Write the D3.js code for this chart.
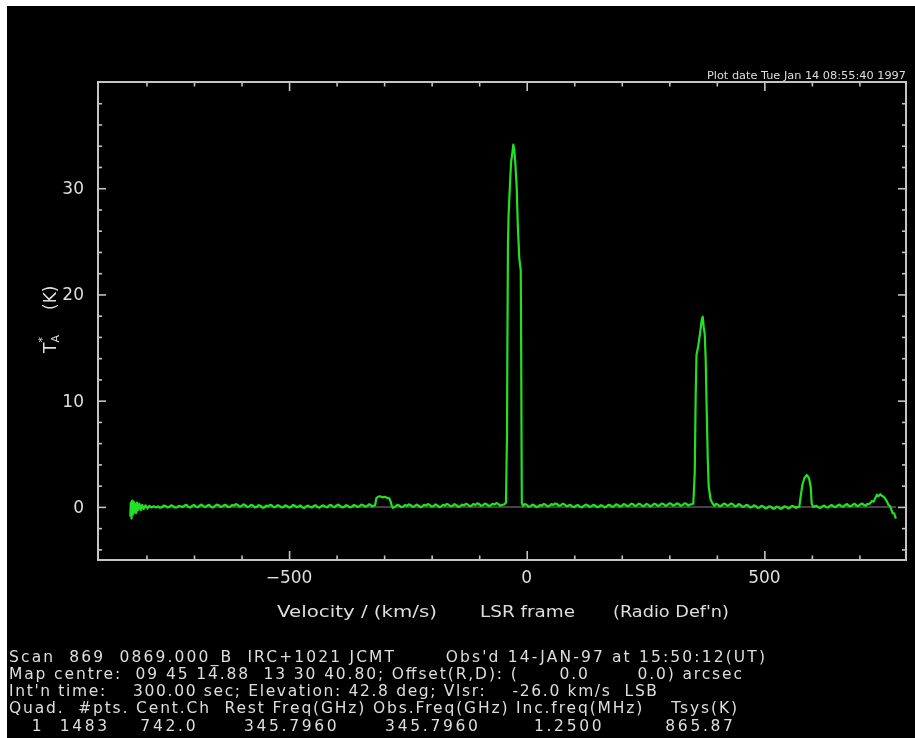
<!DOCTYPE html>
<html><head><meta charset="utf-8">
<script src="https://cdn.jsdelivr.net/npm/d3@7"></script>
<style>
html,body{margin:0;padding:0;background:#fff;}
svg{display:block;}
</style></head><body>
<svg id="c" width="915" height="738"></svg>
<script>
// ---------------- data ----------------
const xTickLabels = [-500, 0, 500];
const xMinorTicks = [-800,-700,-600,-400,-300,-200,-100,100,200,300,400,600,700];
const yTickLabels = [0, 10, 20, 30];
const yMinorTicks = [-4,-2,2,4,6,8,12,14,16,18,22,24,26,28,32,34,36,38];

// spectrum: [velocity km/s, T_A* K]
const leftEdge = [[-834,-0.9],[-833,0.4],[-831.5,-1.1],[-830,0.6],[-828.5,-0.7],[-827,0.5],[-825.5,-0.5],[-824,0.3],[-822,-0.6],[-820,0.4],[-818,-0.3],[-815,0.3],[-812,-0.3],[-809,0.2],[-806,-0.2],[-802,0.15],[-798,-0.15],[-794,0.1],[-790,-0.05],[-785,0.05],[-780,-0.05]];
const baseline1 = [[-776,0.05],[-772,-0.08],[-768,-0.05],[-764,0.12],[-760,0.10],[-756,-0.04],[-752,0.00],[-748,0.14],[-744,0.08],[-740,-0.06],[-736,-0.04],[-732,0.10],[-728,0.06],[-724,-0.02],[-720,0.12],[-716,0.20],[-712,0.02],[-708,-0.06],[-704,0.10],[-700,0.18],[-696,0.04],[-692,-0.04],[-688,0.14],[-684,0.22],[-680,0.06],[-676,-0.02],[-672,0.12],[-668,0.20],[-664,0.00],[-660,-0.06],[-656,0.10],[-652,0.22],[-648,0.16],[-644,0.00],[-640,0.06],[-636,0.20],[-632,0.14],[-628,-0.02],[-624,0.02],[-620,0.18],[-616,0.12],[-612,0.26],[-608,0.18],[-604,0.02],[-600,0.08],[-596,0.24],[-592,0.16],[-588,0.00],[-584,0.04],[-580,0.20],[-576,0.12],[-572,-0.04],[-568,0.00],[-564,0.16],[-560,0.10],[-556,-0.08],[-552,-0.04],[-548,0.12],[-544,0.06],[-540,0.20],[-536,0.14],[-532,-0.04],[-528,0.02],[-524,0.16],[-520,0.10],[-516,-0.06],[-512,-0.02],[-508,0.14],[-504,0.08],[-500,-0.06],[-496,0.00],[-492,0.18],[-488,0.12],[-484,-0.02],[-480,0.04],[-476,0.14],[-472,-0.06],[-468,-0.10],[-464,0.06],[-460,0.12],[-456,0.00],[-452,-0.06],[-448,0.10],[-444,0.16],[-440,-0.02],[-436,-0.08],[-432,0.08],[-428,0.14],[-424,0.02],[-420,-0.04],[-416,0.12],[-412,0.20],[-408,0.04],[-404,-0.02],[-400,0.14],[-396,0.22],[-392,0.06],[-388,-0.04],[-384,0.00],[-380,0.16],[-376,0.10],[-372,-0.04],[-368,0.02],[-364,0.18],[-360,0.12],[-356,0.00],[-352,0.06],[-348,0.22],[-344,0.16],[-340,0.02],[-336,0.08],[-332,0.24],[-328,0.18],[-325,0.04],[-322,0.12]];
const bumpWest = [[-319,0.15],[-316.5,0.8],[-313,0.95],[-309,1.0],[-304,0.9],[-299,0.95],[-294,0.85],[-289,0.8],[-286,0.45],[-284,0.1],[-281,-0.1]];
const baseline2 = [[-276,0.05],[-272,0.20],[-268,0.12],[-264,-0.02],[-260,0.02],[-256,0.18],[-252,0.10],[-248,0.24],[-244,0.16],[-240,0.00],[-236,0.06],[-232,0.22],[-228,0.14],[-224,-0.02],[-220,0.04],[-216,0.20],[-212,0.12],[-208,0.26],[-204,0.18],[-200,0.02],[-196,0.08],[-192,0.24],[-188,0.14],[-184,-0.02],[-180,0.04],[-176,0.20],[-172,0.12],[-168,0.28],[-164,0.20],[-160,0.04],[-156,0.10],[-152,0.26],[-148,0.16],[-144,0.00],[-140,0.06],[-136,0.22],[-132,0.14],[-128,0.30],[-124,0.22],[-120,0.06],[-116,0.12],[-112,0.28],[-108,0.18],[-104,0.34],[-100,0.26],[-96,0.10],[-92,0.16],[-88,0.32],[-84,0.24],[-80,0.08],[-76,0.14],[-72,0.30],[-68,0.22],[-64,0.36],[-60,0.28],[-56,0.12],[-52,0.18],[-47,0.25]];
const peakCO = [[-43.6,0.4],[-41.4,7.2],[-40.8,14.1],[-39.5,24.5],[-38.2,27.4],[-35.6,30],[-33,32.4],[-30.3,33.3],[-28.2,34.1],[-26.1,33.6],[-24,32.4],[-21,30],[-18.9,26.7],[-15.6,23.4],[-12.6,22.3],[-11.6,14.1],[-10.8,5],[-10.3,0.4]];
const baseline3 = [[-8,0.10],[-4,0.26],[0,0.20],[4,0.02],[8,0.06],[12,0.22],[16,0.14],[20,-0.02],[24,0.02],[28,0.18],[32,0.12],[36,0.28],[40,0.20],[44,0.04],[48,0.10],[52,0.26],[56,0.18],[60,0.32],[64,0.26],[68,0.10],[72,0.16],[76,0.30],[80,0.22],[84,0.06],[88,0.12],[92,0.20],[96,0.04],[100,-0.02],[104,0.12],[108,0.18],[112,0.02],[116,-0.04],[120,0.10],[124,0.22],[128,0.16],[132,0.00],[136,0.06],[140,0.20],[144,0.12],[148,-0.02],[152,0.02],[156,0.16],[160,0.10],[164,-0.04],[168,0.04],[172,0.20],[176,0.14],[180,0.00],[184,0.08],[188,0.24],[192,0.18],[196,0.02],[200,0.10],[204,0.26],[208,0.20],[212,0.06],[216,0.14],[220,0.30],[224,0.24],[228,0.08],[232,0.16],[236,0.30],[240,0.22],[244,0.06],[248,0.12],[252,0.28],[256,0.20],[260,0.04],[264,0.14],[268,0.30],[272,0.24],[276,0.08],[280,0.16],[284,0.32],[288,0.26],[292,0.10],[296,0.18],[300,0.34],[304,0.28],[308,0.12],[312,0.20],[316,0.34],[320,0.26],[324,0.10],[328,0.18],[332,0.34],[336,0.28],[340,0.12],[344,0.22]];
const peak2 = [[350.5,0.3],[353.5,3.2],[355.5,10.5],[357.2,14.3],[361,15.2],[364.6,16.3],[368.2,17.6],[370.3,17.9],[372.4,16.9],[374.5,16.3],[376.6,13.8],[378.7,9.1],[380.8,4.7],[382.9,1.9],[387.1,0.65],[391.3,0.3]];
const baseline4 = [[395,0.10],[398,0.28],[402,0.22],[406,0.06],[410,0.12],[414,0.30],[418,0.28],[422,0.10],[426,0.18],[430,0.32],[434,0.24],[438,0.04],[442,0.10],[446,0.26],[450,0.18],[454,0.00],[458,0.06],[462,0.20],[466,0.12],[470,-0.06],[474,0.00],[478,0.14],[482,0.08],[486,-0.10],[490,-0.06],[494,0.10],[498,0.04],[502,-0.14],[506,-0.10],[510,0.06],[514,0.00],[518,-0.18],[522,-0.14],[526,0.02],[530,-0.04],[534,-0.18],[538,-0.12],[542,0.06],[546,0.00],[550,-0.14],[554,-0.08],[558,0.10],[562,0.04],[566,-0.10],[569,-0.02]];
const peak3 = [[573.5,0.0],[576.5,1.0],[580,2.1],[584.2,2.7],[589.1,3.0],[594,2.7],[597.5,1.9],[599.6,0.3],[603,0.0]];
const baseline5 = [[606,0.05],[610,0.10],[614,-0.06],[618,-0.10],[622,0.06],[626,0.12],[630,-0.02],[634,-0.06],[638,0.10],[642,0.18],[646,0.02],[650,-0.02],[654,0.14],[658,0.22],[662,0.06],[666,0.02],[670,0.18],[674,0.26],[678,0.10],[682,0.06],[686,0.20],[690,0.30],[694,0.12],[698,0.08],[702,0.24],[706,0.32],[710,0.16],[714,0.12],[716,0.26]];
const bumpEast = [[722,0.3],[726,0.55],[730,0.5],[733,0.8],[737,1.15],[740,1.0],[744,1.2],[747,1.05],[751,0.95],[754,0.8],[758,0.5],[761,0.2],[764,0.1],[766,-0.1],[770,-0.6],[773,-0.6],[775,-0.9],[777,-1.1]];

const plotDate = "Plot date Tue Jan 14 08:55:40 1997";
const xTitle = ["Velocity / (km/s)", "LSR frame", "(Radio Def'n)"];
const headerLines = [
  "Scan  869  0869.000_B  IRC+1021 JCMT       Obs'd 14-JAN-97 at 15:50:12(UT)",
  "Map centre:  09 45 14.88  13 30 40.80; Offset(R,D): (      0.0       0.0) arcsec",
  "Int'n time:    300.00 sec; Elevation: 42.8 deg; Vlsr:    -26.0 km/s  LSB",
  "Quad.  #pts. Cent.Ch  Rest Freq(GHz) Obs.Freq(GHz) Inc.freq(MHz)    Tsys(K)",
  "   1  1483    742.0      345.7960      345.7960       1.2500        865.87"
];

// ---------------- layout ----------------
const spectrum = [].concat(leftEdge, baseline1, bumpWest, baseline2, peakCO, baseline3, peak2, baseline4, peak3, baseline5, bumpEast);
const frame = {left: 98, right: 906, top: 82, bottom: 560};
const svg = d3.select("#c");
svg.append("rect").attr("x",7).attr("y",6).attr("width",908).attr("height",732).attr("fill","#000");

const defs = svg.append("defs");
defs.append("filter").attr("id","soft").attr("x","-5%").attr("y","-5%").attr("width","110%").attr("height","110%")
  .append("feGaussianBlur").attr("stdDeviation",0.5);

const g = svg.append("g").attr("filter","url(#soft)");
const x = d3.scaleLinear().domain([-902, 798]).range([frame.left, frame.right]);
const y = d3.scaleLinear().domain([-5, 40]).range([frame.bottom, frame.top]);

const axisCol = "#c4c4c4", textCol = "#dedede", font = "DejaVu Sans";

function styleAxis(sel){ sel.select(".domain").remove(); sel.selectAll("line").attr("stroke",axisCol).attr("stroke-width",1.6); sel.selectAll("text").remove(); }
g.append("g").attr("transform",`translate(0,${frame.bottom})`).call(d3.axisBottom(x).tickValues(xTickLabels).tickSize(-9).tickFormat("")).call(styleAxis);
g.append("g").attr("transform",`translate(0,${frame.bottom})`).call(d3.axisBottom(x).tickValues(xMinorTicks).tickSize(-4.5).tickFormat("")).call(styleAxis);
g.append("g").attr("transform",`translate(0,${frame.top})`).call(d3.axisTop(x).tickValues(xTickLabels).tickSize(-9).tickFormat("")).call(styleAxis);
g.append("g").attr("transform",`translate(0,${frame.top})`).call(d3.axisTop(x).tickValues(xMinorTicks).tickSize(-4.5).tickFormat("")).call(styleAxis);
g.append("g").attr("transform",`translate(${frame.left},0)`).call(d3.axisLeft(y).tickValues(yTickLabels).tickSize(-8).tickFormat("")).call(styleAxis);
g.append("g").attr("transform",`translate(${frame.left},0)`).call(d3.axisLeft(y).tickValues(yMinorTicks).tickSize(-4).tickFormat("")).call(styleAxis);
g.append("g").attr("transform",`translate(${frame.right},0)`).call(d3.axisRight(y).tickValues(yTickLabels).tickSize(-8).tickFormat("")).call(styleAxis);
g.append("g").attr("transform",`translate(${frame.right},0)`).call(d3.axisRight(y).tickValues(yMinorTicks).tickSize(-4).tickFormat("")).call(styleAxis);

g.append("rect").attr("x",frame.left).attr("y",frame.top).attr("width",frame.right-frame.left).attr("height",frame.bottom-frame.top)
  .attr("fill","none").attr("stroke",axisCol).attr("stroke-width",2);

// tick labels
g.selectAll("text.xl").data(xTickLabels).join("text").attr("class","xl")
  .attr("x",d=>x(d)).attr("y",583).attr("text-anchor","middle")
  .attr("font-family",font).attr("font-size",17).attr("fill",textCol)
  .text(d=> d<0 ? "\u2212"+Math.abs(d) : String(d));
g.selectAll("text.yl").data(yTickLabels).join("text").attr("class","yl")
  .attr("x",84).attr("y",d=>y(d)+6).attr("text-anchor","end")
  .attr("font-family",font).attr("font-size",17).attr("fill",textCol)
  .text(d=>String(d));

// y title
const yt = g.append("g").attr("transform","translate(56,353) rotate(-90)").attr("font-family",font).attr("fill",textCol);
yt.append("text").attr("x",0).attr("y",0).attr("font-size",17).text("T");
yt.append("text").attr("x",10.5).attr("y",3).attr("font-size",11).text("A");
yt.append("text").attr("x",10.5).attr("y",-10).attr("font-size",11).text("*");
yt.append("text").attr("x",43).attr("y",0).attr("font-size",17).text("(K)");

// x title
const xtPos = [[277,160],[480,95],[613,116]];
g.selectAll("text.xt").data(xTitle).join("text").attr("class","xt")
  .attr("x",(d,i)=>xtPos[i][0]).attr("y",617).attr("textLength",(d,i)=>xtPos[i][1]).attr("lengthAdjust","spacingAndGlyphs")
  .attr("font-family",font).attr("font-size",15).attr("fill",textCol).text(d=>d);

// plot date
g.append("text").attr("x",707).attr("y",79).attr("textLength",199).attr("lengthAdjust","spacingAndGlyphs")
  .attr("font-family",font).attr("font-size",11).attr("fill",textCol).text(plotDate);

// header lines
const hdr = [[9,662,756],[9,679,733],[9,696,648],[9,713,728],[9,731,724]];
g.selectAll("text.hd").data(headerLines).join("text").attr("class","hd")
  .attr("x",(d,i)=>hdr[i][0]).attr("y",(d,i)=>hdr[i][1]).attr("textLength",(d,i)=>hdr[i][2]).attr("lengthAdjust","spacing")
  .attr("xml:space","preserve").style("white-space","pre")
  .attr("font-family",font).attr("font-size",15.5).attr("fill",textCol).text(d=>d);

// zero line and spectrum
const vExt = d3.extent(spectrum, d=>d[0]);
g.append("line").attr("x1",x(vExt[0])).attr("x2",x(vExt[1])).attr("y1",y(0)).attr("y2",y(0))
  .attr("stroke","#5a5a5a").attr("stroke-width",1.5);
g.append("path").datum(spectrum)
  .attr("d", d3.line().x(d=>x(d[0])).y(d=>y(d[1])))
  .attr("fill","none").attr("stroke","#22e022").attr("stroke-width",2.2).attr("stroke-linejoin","round");
</script>
</body></html>
